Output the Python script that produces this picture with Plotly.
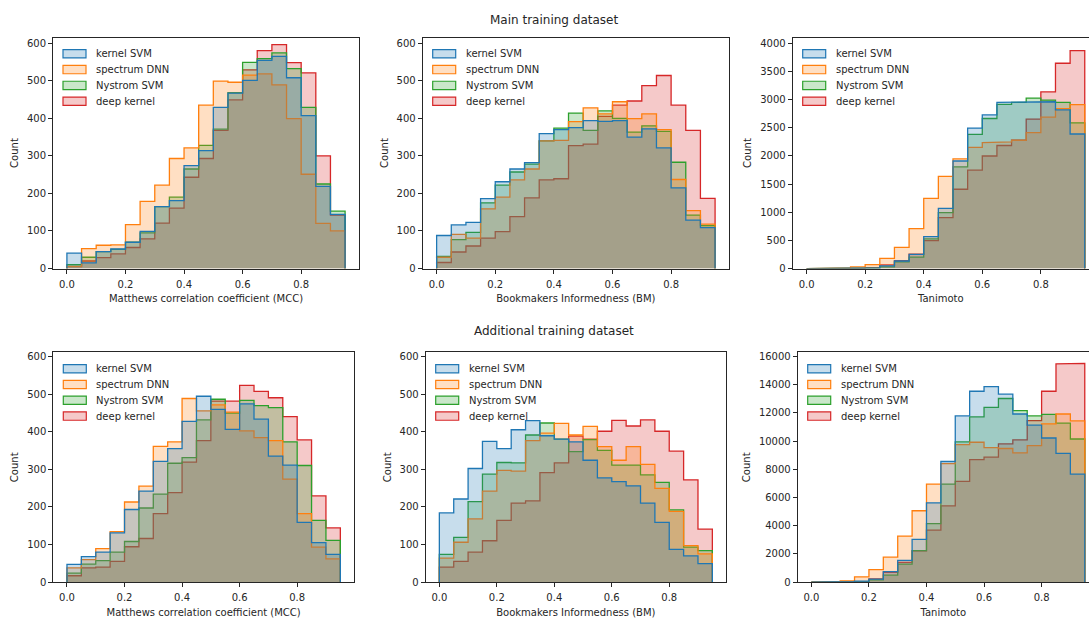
import plotly.graph_objects as go

W, H = 1089, 622

# ---------------- data ----------------
BIN_EDGES = [0.00, 0.05, 0.10, 0.15, 0.20, 0.25, 0.30, 0.35, 0.40, 0.45,
             0.50, 0.55, 0.60, 0.65, 0.70, 0.75, 0.80, 0.85, 0.90, 0.95]

MODELS = ["kernel SVM", "spectrum DNN", "Nystrom SVM", "deep kernel"]
COLORS = ["#1f77b4", "#ff7f0e", "#2ca02c", "#d62728"]

X_TICKS = [0.0, 0.2, 0.4, 0.6, 0.8]
X_TITLES = ["Matthews correlation coefficient (MCC)",
            "Bookmakers Informedness (BM)",
            "Tanimoto"]
ROW_TITLES = ["Main training dataset", "Additional training dataset"]

# Main training dataset — MCC
MAIN_MCC_KERNEL_SVM = [41, 15, 45, 52, 70, 99, 165, 181, 274, 314, 429, 467, 501, 554, 565, 508, 407, 219, 144]
MAIN_MCC_SPECTRUM_DNN = [6, 53, 62, 63, 117, 179, 222, 293, 321, 435, 499, 496, 515, 518, 489, 399, 251, 120, 100]
MAIN_MCC_NYSTROM_SVM = [10, 30, 45, 51, 70, 95, 165, 190, 265, 328, 371, 468, 549, 559, 574, 532, 429, 225, 153]
MAIN_MCC_DEEP_KERNEL = [5, 20, 29, 39, 56, 79, 121, 161, 243, 293, 368, 449, 529, 580, 596, 548, 521, 300, 142]

# Main training dataset — BM
MAIN_BM_KERNEL_SVM = [88, 116, 123, 186, 231, 265, 282, 359, 370, 375, 394, 392, 394, 350, 372, 321, 215, 129, 109]
MAIN_BM_SPECTRUM_DNN = [30, 91, 81, 159, 190, 236, 265, 340, 341, 391, 428, 412, 444, 399, 412, 370, 237, 154, 118]
MAIN_BM_NYSTROM_SVM = [32, 77, 96, 175, 222, 257, 278, 340, 374, 414, 368, 420, 400, 363, 380, 365, 283, 142, 114]
MAIN_BM_DEEP_KERNEL = [16, 44, 60, 81, 98, 138, 188, 236, 239, 327, 331, 405, 435, 446, 487, 514, 435, 368, 187]

# Main training dataset — Tanimoto
MAIN_TAN_KERNEL_SVM = [0, 0, 0, 3, 12, 47, 134, 251, 567, 1069, 1909, 2493, 2727, 2949, 2955, 2955, 2960, 2815, 2388]
MAIN_TAN_SPECTRUM_DNN = [2, 12, 12, 29, 70, 181, 374, 707, 1244, 1635, 1945, 2149, 2236, 2248, 2277, 2412, 2686, 2838, 2908]
MAIN_TAN_NYSTROM_SVM = [0, 0, 0, 3, 10, 29, 117, 204, 526, 993, 1804, 2382, 2663, 2914, 2949, 3025, 2990, 2949, 2587]
MAIN_TAN_DEEP_KERNEL = [0, 0, 0, 2, 15, 64, 140, 257, 496, 905, 1407, 1746, 1997, 2184, 2277, 2651, 3136, 3644, 3866]

# Additional training dataset — MCC
ADD_MCC_KERNEL_SVM = [47, 68, 80, 131, 193, 242, 321, 355, 427, 494, 459, 406, 474, 433, 335, 311, 159, 105, 74]
ADD_MCC_SPECTRUM_DNN = [38, 60, 89, 134, 213, 255, 361, 373, 488, 455, 471, 452, 402, 384, 376, 274, 182, 93, 62]
ADD_MCC_NYSTROM_SVM = [24, 48, 57, 80, 108, 197, 234, 316, 331, 431, 486, 449, 483, 469, 464, 373, 310, 164, 111]
ADD_MCC_DEEP_KERNEL = [17, 38, 40, 55, 94, 116, 182, 238, 319, 376, 481, 481, 523, 507, 490, 440, 378, 229, 144]

# Additional training dataset — BM
ADD_BM_KERNEL_SVM = [184, 221, 302, 374, 355, 405, 429, 389, 380, 373, 324, 277, 267, 256, 210, 159, 87, 70, 49]
ADD_BM_SPECTRUM_DNN = [64, 106, 168, 242, 297, 295, 376, 396, 422, 391, 414, 360, 324, 360, 313, 249, 188, 97, 75]
ADD_BM_NYSTROM_SVM = [74, 119, 214, 287, 318, 317, 391, 423, 380, 347, 379, 350, 311, 311, 285, 265, 192, 93, 84]
ADD_BM_DEEP_KERNEL = [40, 55, 80, 110, 164, 210, 216, 291, 317, 388, 380, 401, 430, 415, 431, 401, 348, 272, 141]

# Additional training dataset — Tanimoto
ADD_TAN_KERNEL_SVM = [5, 10, 30, 70, 210, 746, 1539, 3032, 5620, 8550, 11778, 13530, 13850, 13318, 11918, 11125, 10216, 9120, 7650]
ADD_TAN_SPECTRUM_DNN = [0, 20, 93, 373, 886, 1772, 3265, 5061, 6950, 8397, 9750, 9913, 9540, 9470, 9166, 9679, 11218, 11918, 11428]
ADD_TAN_NYSTROM_SVM = [0, 0, 10, 40, 163, 490, 1283, 2239, 4151, 6950, 9936, 11708, 12385, 13015, 12152, 11778, 11895, 11265, 10146]
ADD_TAN_DEEP_KERNEL = [0, 0, 5, 30, 233, 700, 1399, 2215, 3685, 5410, 7137, 8676, 8863, 9796, 10076, 11452, 13528, 15464, 15510]

# ---------------- layout geometry (pixels) ----------------
PANEL_BOX = [
    (53.0, 359.0, 36.0, 270.0),
    (422.7, 729.0, 36.0, 270.0),
    (792.7, 1089.0, 36.0, 270.0),
    (53.3, 354.0, 355.0, 587.7),
    (425.7, 726.0, 355.0, 587.7),
    (797.7, 1089.0, 355.0, 587.7),
]
X_RANGE_END = [0.9975, 0.9975, 0.9645, 0.9975, 0.9975, 0.9647]
Y_RANGE_TOP = [615, 615, 4100, 610.5, 610.5, 16280]
Y_DTICK = [100, 100, 500, 100, 100, 2000]

PANELS = [
    [MAIN_MCC_KERNEL_SVM, MAIN_MCC_SPECTRUM_DNN, MAIN_MCC_NYSTROM_SVM, MAIN_MCC_DEEP_KERNEL],
    [MAIN_BM_KERNEL_SVM, MAIN_BM_SPECTRUM_DNN, MAIN_BM_NYSTROM_SVM, MAIN_BM_DEEP_KERNEL],
    [MAIN_TAN_KERNEL_SVM, MAIN_TAN_SPECTRUM_DNN, MAIN_TAN_NYSTROM_SVM, MAIN_TAN_DEEP_KERNEL],
    [ADD_MCC_KERNEL_SVM, ADD_MCC_SPECTRUM_DNN, ADD_MCC_NYSTROM_SVM, ADD_MCC_DEEP_KERNEL],
    [ADD_BM_KERNEL_SVM, ADD_BM_SPECTRUM_DNN, ADD_BM_NYSTROM_SVM, ADD_BM_DEEP_KERNEL],
    [ADD_TAN_KERNEL_SVM, ADD_TAN_SPECTRUM_DNN, ADD_TAN_NYSTROM_SVM, ADD_TAN_DEEP_KERNEL],
]

TEXT = "#262626"
FONT = "DejaVu Sans"


def rgba(hex_color, a):
    h = hex_color.lstrip("#")
    r, g, b = int(h[0:2], 16), int(h[2:4], 16), int(h[4:6], 16)
    return f"rgba({r},{g},{b},{a})"


def step_xy(edges, counts):
    xs, ys = [edges[0]], [0]
    for i, c in enumerate(counts):
        xs += [edges[i], edges[i + 1]]
        ys += [c, c]
    xs.append(edges[-1])
    ys.append(0)
    return xs, ys


def px_x(p):
    return p / W


def px_y(p):
    return 1 - p / H


fig = go.Figure()
shapes = []
annotations = []

for n, series in enumerate(PANELS):
    idx = "" if n == 0 else str(n + 1)
    xref, yref = "x" + idx, "y" + idx
    # draw in reverse order so "kernel SVM" ends on top (seaborn layering)
    for k in reversed(range(len(MODELS))):
        xs, ys = step_xy(BIN_EDGES, series[k])
        fig.add_trace(go.Scatter(
            x=xs, y=ys, xaxis=xref, yaxis=yref, mode="lines",
            line=dict(color=COLORS[k], width=1.3),
            fill="tozeroy", fillcolor=rgba(COLORS[k], 0.25),
            name=MODELS[k], showlegend=False, hoverinfo="skip",
        ))

    L, R, T, B = PANEL_BOX[n]
    right_panel = n in (2, 5)
    fig.layout["xaxis" + idx] = dict(
        domain=[px_x(L), px_x(R)], anchor=yref,
        range=[-0.0475, X_RANGE_END[n]],
        tickvals=X_TICKS, ticktext=[f"{v:.1f}" for v in X_TICKS],
        ticks="outside", ticklen=4, tickwidth=1, tickcolor=TEXT,
        ticklabelstandoff=2,
        showline=True, linecolor=TEXT, linewidth=1, mirror=True,
        showgrid=False, zeroline=False,
        tickfont=dict(family=FONT, size=10, color=TEXT),
        title=dict(text=X_TITLES[n % 3], font=dict(family=FONT, size=10, color=TEXT), standoff=6),
    )
    fig.layout["yaxis" + idx] = dict(
        domain=[px_y(B), px_y(T)], anchor=xref,
        range=[0, Y_RANGE_TOP[n]], dtick=Y_DTICK[n], tick0=0, tickformat="d",
        ticks="outside", ticklen=4, tickwidth=1, tickcolor=TEXT,
        showline=True, linecolor=TEXT, linewidth=1, mirror=not right_panel,
        showgrid=False, zeroline=False,
        tickfont=dict(family=FONT, size=10, color=TEXT),
        title=dict(text="Count", font=dict(family=FONT, size=10, color=TEXT), standoff=6),
    )

    # legend (upper left of each axes)
    for k, name in enumerate(MODELS):
        cy = T + 16.5 + 16 * k
        shapes.append(dict(
            type="rect", xref="paper", yref="paper",
            x0=px_x(L + 10), x1=px_x(L + 33), y0=px_y(cy + 4.2), y1=px_y(cy - 4.2),
            fillcolor=rgba(COLORS[k], 0.25), line=dict(color=COLORS[k], width=1.2),
        ))
        annotations.append(dict(
            text=name, xref="paper", yref="paper", x=px_x(L + 41), y=px_y(cy),
            xanchor="left", yanchor="middle", showarrow=False,
            font=dict(family=FONT, size=10, color=TEXT),
        ))

annotations.append(dict(text=ROW_TITLES[0], xref="paper", yref="paper",
                        x=px_x(554), y=px_y(18.3), xanchor="center", yanchor="middle",
                        showarrow=False, font=dict(family=FONT, size=12, color=TEXT)))
annotations.append(dict(text=ROW_TITLES[1], xref="paper", yref="paper",
                        x=px_x(554), y=px_y(333), xanchor="center", yanchor="middle",
                        showarrow=False, font=dict(family=FONT, size=12, color=TEXT)))

fig.update_layout(
    width=W, height=H,
    margin=dict(l=0, r=0, t=0, b=0),
    paper_bgcolor="white", plot_bgcolor="white",
    showlegend=False,
    shapes=shapes, annotations=annotations,
    font=dict(family=FONT, size=10, color=TEXT),
)

fig.write_html("out.html",
               config={"displayModeBar": False},
               post_script="document.body.style.margin='0';document.body.style.overflow='hidden';")
